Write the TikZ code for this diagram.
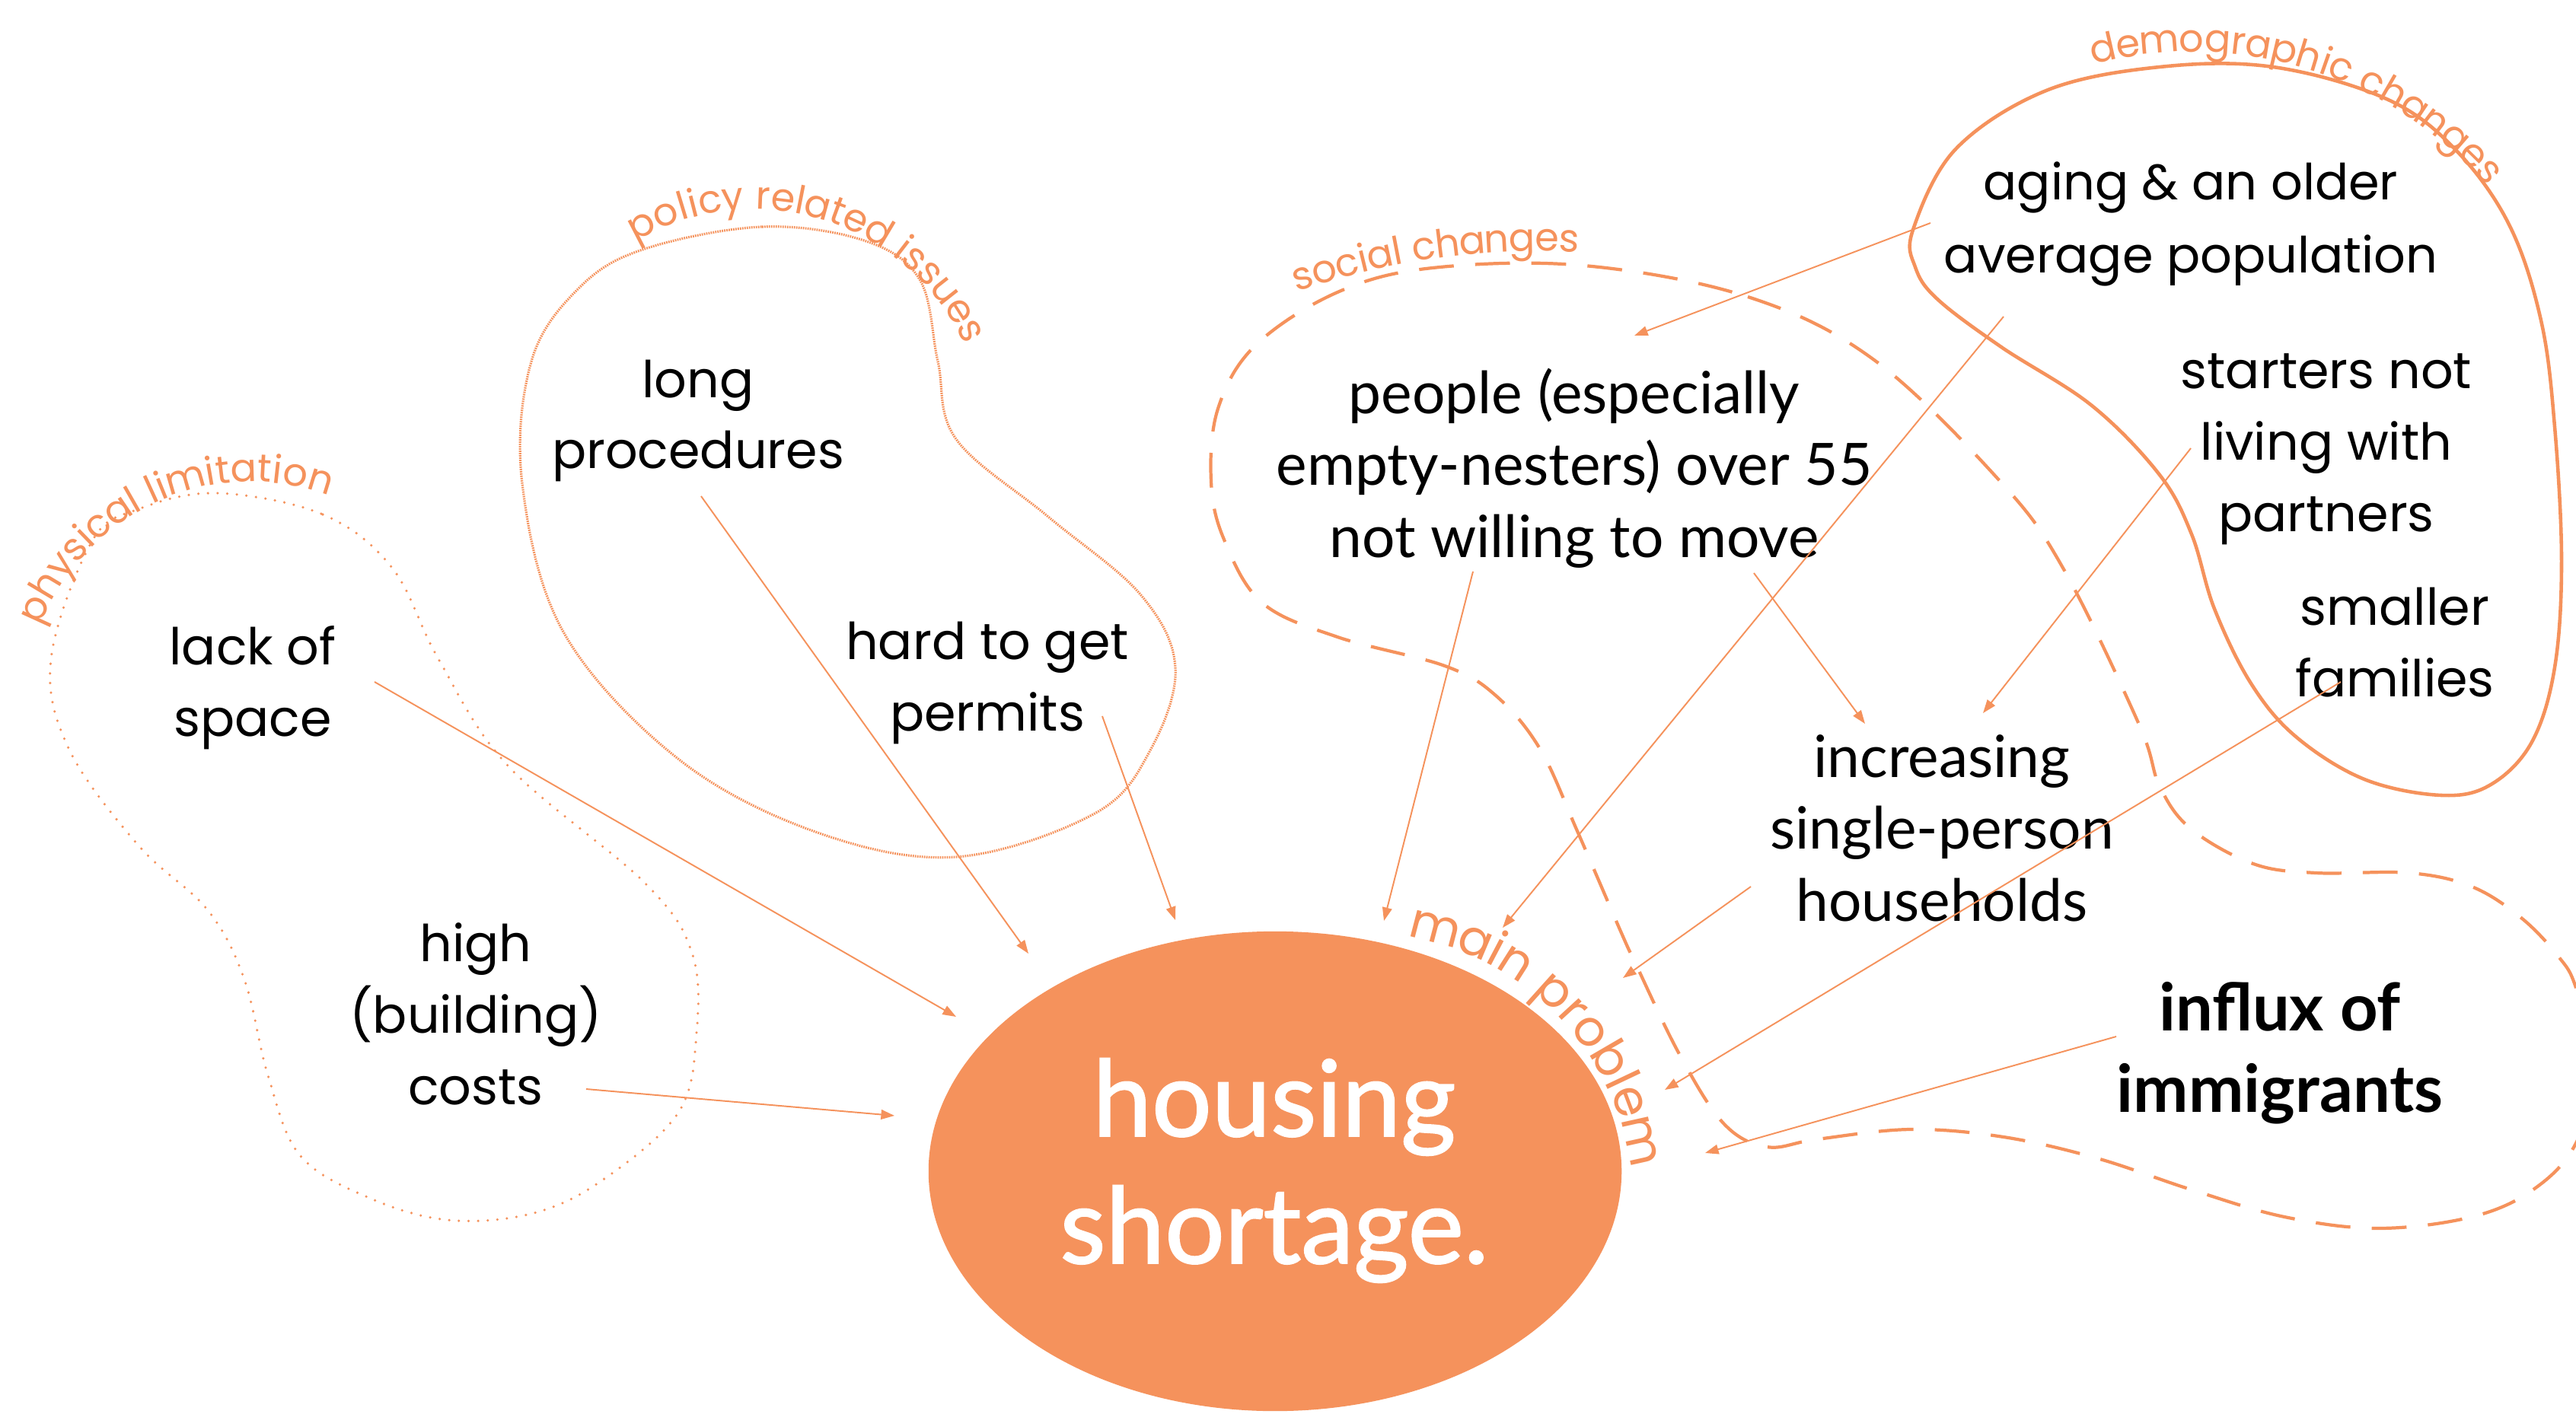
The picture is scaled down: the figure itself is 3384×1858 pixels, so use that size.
\documentclass[tikz,border=0pt]{standalone}
\usepackage{fontspec}
\usetikzlibrary{shapes.geometric,arrows.meta,calc}
\newfontfamily\pop{Poppins}
\newfontfamily\lato{Lato}
\newfontfamily\latom{Lato}[FakeBold=1.4]
\definecolor{hs}{RGB}{245,146,92}
\newcommand\grpsize{14.5}
\newcommand\grpfont{\pop\fontsize{\grpsize}{18}\selectfont}
% #1 name, #2 cx, #3 cy (downwards), #4 radius, #5 start angle, #6 list char/centre offset (em), clockwise
\newcommand\arclabel[6]{%
  \foreach \ch/\off [count=\k] in {#6}{%
    \pgfmathsetmacro\arcTm{#5-\off*\grpsize/0.28453/#4*57.2958}%
    \node[rotate=\arcTm-90, anchor=base, inner sep=0pt, text=hs, font=\grpfont] (#1-\k) at ($(#2,-#3)+(\arcTm:#4)$) {\ch};
  }%
}
\begin{document}
\begin{tikzpicture}[x=0.01cm,y=0.01cm,
  lbl/.style={font={\pop\fontsize{19}{26.6}\selectfont}, align=center, inner sep=0pt, anchor=base, text=black},
  lbc/.style={font={\lato\fontsize{21.8}{26.8}\selectfont}, align=center, inner sep=0pt, anchor=base, text=black},
  conn/.style={draw=hs, line width=0.55pt, -{Triangle[length=5pt,width=3.6pt]}},
  blobdot/.style={draw=hs, line width=1pt, line cap=round, dash pattern=on 0pt off 3.6pt},
  blobfine/.style={draw=hs, line width=0.9pt, dash pattern=on 0.5pt off 0.35pt},
  blobdash/.style={draw=hs, line width=1.2pt, dash pattern=on 13pt off 8pt},
  blobsolid/.style={draw=hs, line width=1.3pt}
]
\useasboundingbox (0,0) rectangle (3384,-1858);
\clip (0,0) rectangle (3384,-1858);
\fill[white] (0,0) rectangle (3384,-1858);

% blobs
\draw[blobdot] plot[smooth cycle, tension=0.6] coordinates {
 (285,-648) (424,-676) (515,-746) (576,-866) (667,-1006) (848,-1161) (909,-1252)
 (915,-1357) (891,-1462) (788,-1553) (697,-1595) (588,-1603) (485,-1574) (394,-1518)
 (352,-1413) (321,-1287) (273,-1196) (182,-1111) (91,-985) (67,-866) (121,-711) (182,-669)};

\draw[blobfine] plot[smooth cycle, tension=0.6] coordinates {
 (844,-328) (1001,-298) (1135,-316) (1208,-367) (1232,-475) (1256,-577) (1377,-679)
 (1498,-781) (1544,-877) (1511,-986) (1438,-1069) (1256,-1126) (1074,-1094) (892,-998)
 (741,-832) (686,-635) (698,-475) (759,-380)};

\draw[blobdash] plot[smooth cycle, tension=0.6] coordinates {
 (2081,-349) (2296,-390) (2462,-473) (2628,-633) (2711,-748) (2810,-952) (2837,-1033)
 (2878,-1089) (2960,-1135) (3042,-1147) (3165,-1147) (3247,-1165) (3312,-1206) (3361,-1257)
 (3384,-1298) (3410,-1400) (3384,-1502) (3328,-1563) (3247,-1599) (3124,-1614) (3001,-1599)
 (2878,-1563) (2755,-1522) (2632,-1494) (2510,-1484) (2387,-1497) (2321,-1507) (2264,-1476)
 (2206,-1385) (2149,-1267) (2130,-1226) (2072,-1092) (2023,-984) (1965,-914) (1898,-875)
 (1757,-837) (1658,-792) (1608,-709) (1591,-633) (1600,-537) (1649,-454) (1757,-384) (1882,-352)};

\draw[blobsolid] plot[smooth cycle, tension=0.6] coordinates {
 (2837,-88) (2986,-88) (3135,-130) (3225,-196) (3296,-295) (3338,-421) (3356,-561)
 (3365,-737) (3356,-877) (3326,-975) (3272,-1031) (3207,-1045) (3106,-1024) (3016,-968)
 (2957,-898) (2909,-800) (2879,-702) (2837,-624) (2748,-533) (2629,-456) (2545,-393)
 (2516,-351) (2513,-302) (2569,-196) (2688,-119)};

% group labels (curved, one glyph per node)
\arclabel{phys}{330}{930}{297}{158.7}{p/0.33,h/0.975,y/1.57,s/2.105,i/2.49,c/2.91,a/3.515,l/3.96,l/4.48,i/4.74,m/5.36,i/5.98,t/6.30,a/6.805,t/7.31,i/7.63,o/8.08,n/8.715}
\arclabel{pol}{990}{580}{305}{120.5}{p/0.33,o/0.98,l/1.43,i/1.69,c/2.11,y/2.68,r/3.415,e/3.91,l/4.34,a/4.785,t/5.29,e/5.78,d/6.41,i/7.13,s/7.515,s/8.025,u/8.595,e/9.21,s/9.765}
\arclabel{soc}{2020}{1288}{958}{109.3}{s/0.255,o/0.83,c/1.44,i/1.86,a/2.305,l/2.75,c/3.43,h/4.035,a/4.665,n/5.295,g/5.94,e/6.57,s/7.125}
\arclabel{dem}{2880}{580}{512}{104.7}{d/0.33,e/0.96,m/1.75,o/2.56,g/3.21,r/3.735,a/4.245,p/4.89,h/5.535,i/5.98,c/6.40,c/7.24,h/7.845,a/8.475,n/9.105,g/9.75,e/10.38,s/10.935}
\renewcommand\grpsize{18.5}
\arclabel{mp}{1792}{1580}{353.5}{80.6}{m/0.49,a/1.295,i/1.74,n/2.185,p/3.09,r/3.615,o/4.13,b/4.78,l/5.24,e/5.67,m/6.46}

% main problem
\node[ellipse, fill=hs, minimum width=9.1cm, minimum height=6.3cm, inner sep=0pt] (main) at (1675,-1539) {};
\node[font={\latom\fontsize{39.5}{47.5}\selectfont}, text=white, align=center, inner sep=0pt, anchor=base] (maintext) at (1674,-1660) {housing\\shortage.};

% labels (anchor = baseline of last line)
\node[lbl] (lack) at (332,-967) {lack of\\space};
\node[lbl] (high) at (625,-1451) {high\\(building)\\costs};
\node[lbl] (long) at (917,-616) {long\\procedures};
\node[lbl] (hard) at (1297,-960) {hard to get\\permits};
\node[lbc] (people) at (2068,-732) {people (especially\\empty-nesters) over 55\\not willing to move};
\node[lbc] (incr) at (2551,-1210) {increasing\\single-person\\households};
\node[lbl, font={\pop\fontsize{18.6}{27.3}\selectfont}] (aging) at (2878,-359) {aging \& an older\\average population};
\node[lbl] (starters) at (3056,-698) {starters not\\living with\\partners};
\node[lbl] (smaller) at (3146,-915) {smaller\\families};
\node[lbc, font={\lato\bfseries\fontsize{24.6}{30.4}\selectfont}] (influx) at (2995,-1461) {influx of\\immigrants};

% connector ends
\coordinate (s1) at (492,-896);   \coordinate (t1) at (1256,-1336);
\coordinate (s2) at (770,-1431);  \coordinate (t2) at (1175,-1466);
\coordinate (s3) at (921,-652);   \coordinate (t3) at (1351,-1253);
\coordinate (s4) at (1448,-941);  \coordinate (t4) at (1544,-1209);
\coordinate (s5) at (1935,-751);  \coordinate (t5) at (1818,-1210);
\coordinate (s6) at (2304,-753);  \coordinate (t6) at (2450,-951);
\coordinate (s7) at (2536,-293);  \coordinate (t7) at (2147,-441);
\coordinate (s8) at (2632,-416);  \coordinate (t8) at (1974,-1219);
\coordinate (s9) at (2878,-589);  \coordinate (t9) at (2605,-937);
\coordinate (s10) at (3075,-896); \coordinate (t10) at (2187,-1432);
\coordinate (s11) at (2300,-1165);\coordinate (t11) at (2132,-1285);
\coordinate (s12) at (2780,-1362);\coordinate (t12) at (2240,-1515);

\foreach \i in {1,...,12} {\draw[conn] (s\i) -- (t\i);}
\end{tikzpicture}
\end{document}
